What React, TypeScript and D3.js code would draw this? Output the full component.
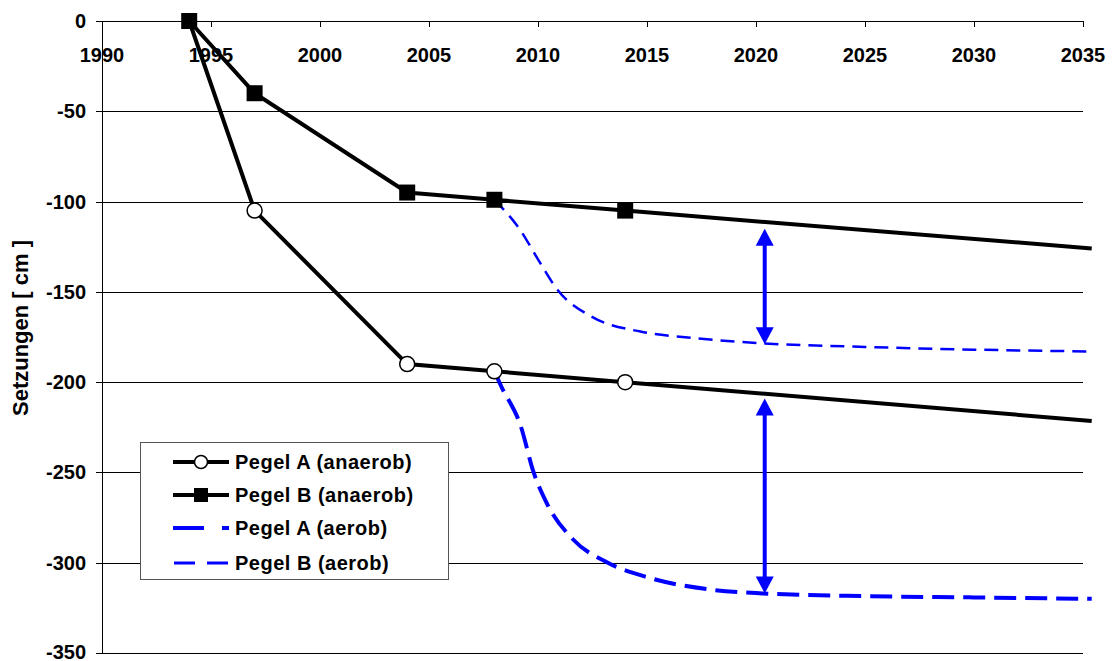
import React from "react";
import * as d3 from "d3";

const xTicks = [1990, 1995, 2000, 2005, 2010, 2015, 2020, 2025, 2030, 2035];
const yTicks = [0, -50, -100, -150, -200, -250, -300, -350];

const pegelAAnaerob: [number, number][] = [
  [1994, 0], [1997, -105], [2004, -190], [2008, -194], [2014, -200], [2035.4, -221.5],
];
const pegelAAnaerobMarkers: [number, number][] = [
  [1997, -105], [2004, -190], [2008, -194], [2014, -200],
];
const pegelBAnaerob: [number, number][] = [
  [1994, 0], [1997, -40], [2004, -95], [2008, -99], [2014, -105], [2035.4, -126],
];
const pegelBAnaerobMarkers: [number, number][] = [
  [1994, 0], [1997, -40], [2004, -95], [2008, -99], [2014, -105],
];
const pegelAAerob: [number, number][] = [
  [2008, -194], [2008.3, -202], [2009.2, -224], [2009.8, -250], [2010.4, -267],
  [2011.6, -287], [2013.2, -300], [2015, -308], [2018, -315], [2020.3, -317],
  [2025, -318.5], [2030, -319.2], [2035.4, -320],
];
const pegelBAerob: [number, number][] = [
  [2008, -99], [2009.2, -116], [2010, -132], [2010.9, -149], [2012.5, -164],
  [2014.7, -172], [2017.1, -175.5], [2020.3, -178.5], [2025, -180.5],
  [2030, -182], [2035.4, -183],
];
const arrows: { year: number; from: number; to: number }[] = [
  { year: 2020.4, from: -115, to: -179 },
  { year: 2020.4, from: -209, to: -317 },
];
const legendLabels = ["Pegel A (anaerob)", "Pegel B (anaerob)", "Pegel A (aerob)", "Pegel B (aerob)"];

const FONT = "'Liberation Sans', Arial, sans-serif";

export default function App() {
  const W = 1112, H = 661;
  const x = d3.scaleLinear().domain([1990, 2035]).range([102, 1083]);
  const y = d3.scaleLinear().domain([0, -350]).range([21, 653]);
  const lineStraight = d3.line<[number, number]>().x(d => x(d[0])).y(d => y(d[1]));
  const lineCurve = d3.line<[number, number]>().x(d => x(d[0])).y(d => y(d[1])).curve(d3.curveMonotoneX);
  const blue = "#0000ff";

  const legendX = 140, legendY = 442, legendW = 308, legendH = 137;
  const legendRows = [462, 495, 528, 563];

  return (
    <svg width={W} height={H} style={{ position: "absolute", left: 0, top: 0, background: "#fff" }} fontFamily={FONT}>
      <rect x={0} y={0} width={W} height={H} fill="#fff" />
      {/* gridlines */}
      {yTicks.map(t => (
        <line key={"g" + t} x1={x(1990)} x2={x(2035)} y1={Math.round(y(t)) + 0.5} y2={Math.round(y(t)) + 0.5} stroke="#000" strokeWidth={1} />
      ))}
      {/* y axis */}
      <line x1={x(1990) + 0.5} x2={x(1990) + 0.5} y1={y(0)} y2={y(-350)} stroke="#000" strokeWidth={1} />
      {yTicks.map(t => (
        <g key={"yt" + t}>
          <line x1={96} x2={x(1990)} y1={Math.round(y(t)) + 0.5} y2={Math.round(y(t)) + 0.5} stroke="#000" />
          <text x={86} y={y(t) - (t === -350 ? 1.5 : 0)} dy="0.35em" textAnchor="end" fontSize={20} fontWeight="bold">{t}</text>
        </g>
      ))}
      {/* x ticks */}
      {xTicks.map(t => (
        <g key={"xt" + t}>
          <line x1={Math.round(x(t)) + 0.5} x2={Math.round(x(t)) + 0.5} y1={y(0)} y2={y(0) + 6} stroke="#000" />
          <text x={x(t)} y={62} textAnchor="middle" fontSize={20} fontWeight="bold">{t}</text>
        </g>
      ))}
      <text transform={`translate(28,${328}) rotate(-90)`} textAnchor="middle" fontSize={22} fontWeight="bold">Setzungen [ cm ]</text>

      {/* aerob curves */}
      <path d={lineCurve(pegelBAerob) || ""} fill="none" stroke={blue} strokeWidth={2.5} strokeDasharray="14,8" />
      <path d={lineCurve(pegelAAerob) || ""} fill="none" stroke={blue} strokeWidth={4} strokeDasharray="22,9" />

      {/* anaerob lines */}
      <path d={lineStraight(pegelBAnaerob) || ""} fill="none" stroke="#000" strokeWidth={4} />
      <path d={lineStraight(pegelAAnaerob) || ""} fill="none" stroke="#000" strokeWidth={4} />
      {pegelBAnaerobMarkers.map((d, i) => (
        <rect key={"sq" + i} x={x(d[0]) - 8} y={y(d[1]) - 8} width={16} height={16} fill="#000" />
      ))}
      {pegelAAnaerobMarkers.map((d, i) => (
        <circle key={"c" + i} cx={x(d[0])} cy={y(d[1])} r={7.5} fill="#fff" stroke="#000" strokeWidth={1.5} />
      ))}

      {/* arrows */}
      {arrows.map((a, i) => {
        const ax = x(a.year), y1 = y(a.from), y2 = y(a.to);
        return (
          <g key={"a" + i}>
            <line x1={ax} x2={ax} y1={y1 + 14} y2={y2 - 14} stroke={blue} strokeWidth={4} />
            <path d={`M${ax},${y1} L${ax - 9},${y1 + 17} L${ax + 9},${y1 + 17} Z`} fill={blue} />
            <path d={`M${ax},${y2} L${ax - 9},${y2 - 17} L${ax + 9},${y2 - 17} Z`} fill={blue} />
          </g>
        );
      })}

      {/* legend */}
      <rect x={legendX + 0.5} y={legendY + 0.5} width={legendW} height={legendH} fill="#fff" stroke="#555" strokeWidth={1} />
      {legendLabels.map((lab, i) => {
        const ly = legendRows[i];
        return (
          <g key={"l" + i}>
            {i === 0 && (
              <>
                <line x1={173} x2={229} y1={ly} y2={ly} stroke="#000" strokeWidth={4} />
                <circle cx={201} cy={ly} r={6.5} fill="#fff" stroke="#000" strokeWidth={1.5} />
              </>
            )}
            {i === 1 && (
              <>
                <line x1={173} x2={229} y1={ly} y2={ly} stroke="#000" strokeWidth={4} />
                <rect x={194} y={ly - 7} width={14} height={14} fill="#000" />
              </>
            )}
            {i === 2 && (
              <line x1={173} x2={229} y1={ly} y2={ly} stroke={blue} strokeWidth={4} strokeDasharray="31,18" />
            )}
            {i === 3 && (
              <line x1={174} x2={228} y1={ly} y2={ly} stroke={blue} strokeWidth={3} strokeDasharray="21,12" />
            )}
            <text x={235} y={ly} dy="0.35em" fontSize={20} fontWeight="bold" letterSpacing={0.5}>{lab}</text>
          </g>
        );
      })}
    </svg>
  );
}
